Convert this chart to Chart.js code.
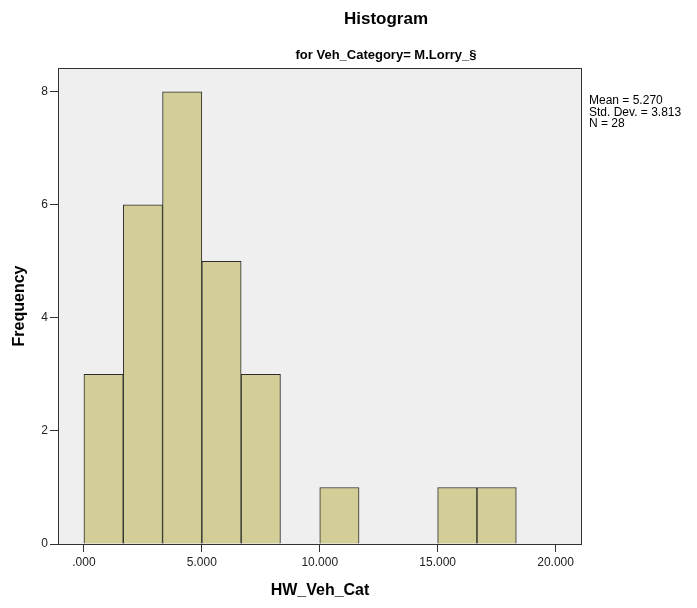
<!DOCTYPE html>
<html>
<head>
<meta charset="utf-8">
<script src="https://cdn.jsdelivr.net/npm/chart.js@4"></script>
<style>
  body { margin: 0; background: #fff; }
  #wrap { width: 697px; height: 608px; }
</style>
</head>
<body>
<div id="wrap"><canvas id="myChart" width="697" height="608"></canvas></div>
<script>
// histogram bins (bin width 5/3) and their counts
let binCenters = [0.833, 2.5, 4.167, 5.833, 7.5, 9.167, 10.833, 12.5, 14.167, 15.833, 17.5];
let counts = [3, 6, 8, 5, 3, 0, 1, 0, 0, 1, 1];
let xTicks = [0, 5, 10, 15, 20];
let yTicks = [0, 2, 4, 6, 8];
let stats = ['Mean = 5.270', 'Std. Dev. = 3.813', 'N = 28'];

const FONT = '"Liberation Sans", Arial, sans-serif';

// background box + texts around the plot
const decor = {
    id: 'decor',
    beforeDraw(chart) {
        const c = chart.ctx, a = chart.chartArea;
        c.save();
        c.fillStyle = '#efefef';
        c.fillRect(a.left, a.top, a.right - a.left, a.bottom - a.top);
        c.restore();
    },
    afterDraw(chart) {
        const c = chart.ctx, a = chart.chartArea;
        c.save();
        c.strokeStyle = '#333';
        c.lineWidth = 1;
        c.strokeRect(a.left + 0.5, a.top + 0.5, a.right - a.left - 1, a.bottom - a.top);

        c.fillStyle = '#000';
        c.textAlign = 'center';
        c.textBaseline = 'middle';
        c.font = 'bold 17px ' + FONT;
        c.fillText('Histogram', 386, 19);
        c.font = 'bold 13px ' + FONT;
        c.fillText('for Veh_Category= M.Lorry_§', 386, 55);

        c.font = 'bold 16px ' + FONT;
        c.fillText('HW_Veh_Cat', 320, 591);
        c.save();
        c.translate(20, 306);
        c.rotate(-Math.PI / 2);
        c.fillText('Frequency', 0, 0);
        c.restore();

        c.textAlign = 'left';
        c.font = '12px ' + FONT;
        stats.forEach((s, i) => c.fillText(s, 589, 101 + i * 11.5));
        c.restore();
    }
};

let ctx = document.getElementById('myChart').getContext('2d');
let myChart = new Chart(ctx, {
    type: 'bar',
    data: {
        datasets: [{
            data: binCenters.map((x, i) => ({ x: x, y: counts[i] })),
            backgroundColor: '#d3ce98',
            borderColor: '#2b2b2b',
            borderWidth: 1,
            barPercentage: 1,
            categoryPercentage: 1
        }]
    },
    options: {
        responsive: false,
        animation: false,
        layout: { padding: { top: 68, right: 115, left: 0, bottom: 0 } },
        plugins: { legend: { display: false }, tooltip: { enabled: false } },
        scales: {
            x: {
                type: 'linear',
                offset: false,
                min: -1.1,
                max: 21.12,
                afterBuildTicks: s => { s.ticks = xTicks.map(v => ({ value: v })); },
                afterFit: s => { s.height = 64; },
                border: { display: false },
                grid: { offset: false, drawOnChartArea: false, tickLength: 8, color: '#333' },
                ticks: {
                    color: '#222',
                    font: { family: FONT, size: 12 },
                    padding: 3,
                    maxRotation: 0,
                    callback: v => v === 0 ? '.000' : v.toFixed(3)
                }
            },
            y: {
                min: 0,
                max: 8.42,
                afterBuildTicks: s => { s.ticks = yTicks.map(v => ({ value: v })); },
                afterFit: s => { s.width = 58; },
                border: { display: false },
                grid: { drawOnChartArea: false, tickLength: 8, color: '#333' },
                ticks: {
                    color: '#222',
                    font: { family: FONT, size: 12 },
                    padding: 2
                }
            }
        }
    },
    plugins: [decor]
});
</script>
</body>
</html>
